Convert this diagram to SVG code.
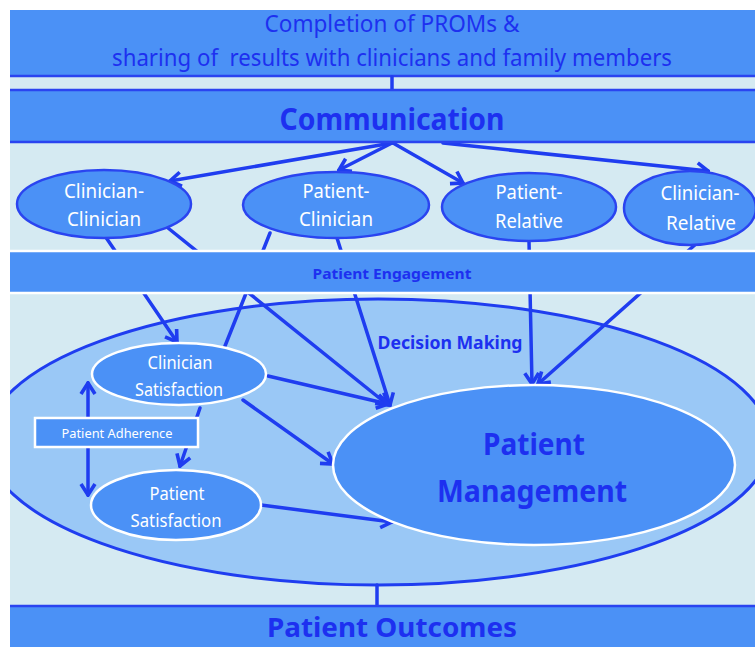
<svg xmlns="http://www.w3.org/2000/svg" width="755" height="647" viewBox="0 0 755 647">
<style>
  .band{fill:#4b91f6}
  .bg{fill:#d5eaf2}
  .node{fill:#4b91f6;stroke:#2a44f0;stroke-width:2.5}
  .wnode{fill:#4b91f6;stroke:#ffffff;stroke-width:2.5}
  .dm{fill:#9ac8f6;stroke:#1f3df0;stroke-width:3}
  .ln{fill:none;stroke:#1f3df0;stroke-width:3.5;stroke-linecap:round}
  .bl{stroke:#2a44f0;stroke-width:2.5}
  .wl{stroke:#ffffff;stroke-width:2.5}
  text{font-family:"Noto Sans","Open Sans",sans-serif;text-anchor:middle}
  .dt{fill:#1d30f0}
  .wt{fill:#ffffff}
  .b{font-weight:bold}
</style>
<defs>
  <marker id="ah" markerUnits="userSpaceOnUse" viewBox="-14 -9 16 18" markerWidth="16" markerHeight="18" refX="0" refY="0" orient="auto-start-reverse">
    <path d="M-11,-7 L0,0 L-11,7" fill="none" stroke="#1f3df0" stroke-width="3.6" stroke-linejoin="miter"/>
  </marker>
  <clipPath id="frame"><rect x="10" y="10" width="745" height="637"/></clipPath>
</defs>
<rect x="0" y="0" width="755" height="647" fill="#ffffff"/>
<g clip-path="url(#frame)">
  <rect class="bg" x="10" y="76" width="745" height="530"/>
  <g id="proms">
    <rect class="band" x="10" y="10" width="745" height="66"/>
    <line class="bl" x1="10" y1="76" x2="755" y2="76"/>
    <text class="dt" x="392" y="32" font-size="23" textLength="255" lengthAdjust="spacingAndGlyphs">Completion of PROMs &amp;</text>
    <text class="dt" x="392" y="66" font-size="23" textLength="560" lengthAdjust="spacingAndGlyphs" xml:space="preserve">sharing of  results with clinicians and family members</text>
  </g>
  <g id="decision-making">
    <ellipse class="dm" cx="378" cy="442" rx="392" ry="143"/>
    <text class="dt b" x="450" y="349" font-size="18" textLength="145" lengthAdjust="spacingAndGlyphs">Decision Making</text>
  </g>
  <g id="connectors">
    <line class="ln" x1="392" y1="77" x2="392" y2="91"/>
    <line class="ln" x1="377" y1="585" x2="377" y2="606"/>
    <line class="ln" x1="392" y1="143" x2="170" y2="181" marker-end="url(#ah)"/>
    <line class="ln" x1="392" y1="143" x2="339" y2="170" marker-end="url(#ah)"/>
    <line class="ln" x1="393" y1="143" x2="463" y2="183" marker-end="url(#ah)"/>
    <line class="ln" x1="443" y1="143" x2="708" y2="171" marker-end="url(#ah)"/>
    <line class="ln" x1="105" y1="236" x2="177" y2="342" marker-end="url(#ah)"/>
    <line class="ln" x1="168" y1="228" x2="388" y2="405" marker-end="url(#ah)"/>
    <line class="ln" x1="270" y1="233" x2="225" y2="346"/>
    <line class="ln" x1="337" y1="238" x2="390" y2="405" marker-end="url(#ah)"/>
    <line class="ln" x1="529" y1="241" x2="532" y2="384" marker-end="url(#ah)"/>
    <line class="ln" x1="697" y1="243" x2="538" y2="384" marker-end="url(#ah)"/>
    <line class="ln" x1="268" y1="376" x2="388" y2="404" marker-end="url(#ah)"/>
    <line class="ln" x1="243" y1="400" x2="333" y2="464" marker-end="url(#ah)"/>
    <line class="ln" x1="200" y1="408" x2="180" y2="466" marker-end="url(#ah)"/>
    <line class="ln" x1="88" y1="383" x2="88" y2="495" marker-start="url(#ah)" marker-end="url(#ah)"/>
    <line class="ln" x1="261" y1="505" x2="392" y2="522" marker-end="url(#ah)"/>
  </g>
  <g id="communication">
    <rect class="band" x="10" y="90" width="745" height="52"/>
    <line class="bl" x1="10" y1="90" x2="755" y2="90"/>
    <line class="bl" x1="10" y1="142" x2="755" y2="142"/>
    <text class="dt b" x="392" y="130" font-size="31" textLength="225" lengthAdjust="spacingAndGlyphs">Communication</text>
  </g>
  <g id="clinician-clinician">
    <ellipse class="node" cx="104" cy="204" rx="87" ry="34"/>
    <text class="wt" x="104" y="198" font-size="20" textLength="80" lengthAdjust="spacingAndGlyphs">Clinician-</text>
    <text class="wt" x="104" y="226" font-size="20" textLength="74" lengthAdjust="spacingAndGlyphs">Clinician</text>
  </g>
  <g id="patient-clinician">
    <ellipse class="node" cx="336" cy="205" rx="93" ry="33"/>
    <text class="wt" x="336" y="198" font-size="20" textLength="67" lengthAdjust="spacingAndGlyphs">Patient-</text>
    <text class="wt" x="336" y="226" font-size="20" textLength="74" lengthAdjust="spacingAndGlyphs">Clinician</text>
  </g>
  <g id="patient-relative">
    <ellipse class="node" cx="529" cy="207" rx="87" ry="34"/>
    <text class="wt" x="529" y="199" font-size="20" textLength="67" lengthAdjust="spacingAndGlyphs">Patient-</text>
    <text class="wt" x="529" y="228" font-size="20" textLength="68" lengthAdjust="spacingAndGlyphs">Relative</text>
  </g>
  <g id="clinician-relative">
    <ellipse class="node" cx="690" cy="208" rx="66" ry="37"/>
    <text class="wt" x="700" y="200" font-size="20" textLength="79" lengthAdjust="spacingAndGlyphs">Clinician-</text>
    <text class="wt" x="701" y="230" font-size="20" textLength="70" lengthAdjust="spacingAndGlyphs">Relative</text>
  </g>
  <g id="patient-engagement">
    <rect class="band" x="10" y="251" width="745" height="42"/>
    <line class="wl" x1="10" y1="251" x2="755" y2="251"/>
    <line class="wl" x1="10" y1="293" x2="755" y2="293"/>
    <text class="dt b" x="392" y="279" font-size="15" textLength="159" lengthAdjust="spacingAndGlyphs">Patient Engagement</text>
  </g>
  <g id="clinician-satisfaction">
    <ellipse class="wnode" cx="179" cy="374" rx="87" ry="31"/>
    <text class="wt" x="180" y="369" font-size="18" textLength="65" lengthAdjust="spacingAndGlyphs">Clinician</text>
    <text class="wt" x="179" y="396" font-size="18" textLength="88" lengthAdjust="spacingAndGlyphs">Satisfaction</text>
  </g>
  <g id="patient-adherence">
    <rect class="wnode" x="35" y="418" width="163" height="29"/>
    <text class="wt" x="117" y="438" font-size="13" textLength="111" lengthAdjust="spacingAndGlyphs">Patient Adherence</text>
  </g>
  <g id="patient-satisfaction">
    <ellipse class="wnode" cx="176" cy="505" rx="85" ry="35"/>
    <text class="wt" x="177" y="500" font-size="18" textLength="55" lengthAdjust="spacingAndGlyphs">Patient</text>
    <text class="wt" x="176" y="527" font-size="18" textLength="91" lengthAdjust="spacingAndGlyphs">Satisfaction</text>
  </g>
  <g id="patient-management">
    <ellipse class="wnode" cx="534" cy="465" rx="201" ry="80"/>
    <text class="dt b" x="534" y="455" font-size="31" textLength="102" lengthAdjust="spacingAndGlyphs">Patient</text>
    <text class="dt b" x="532" y="502" font-size="31" textLength="190" lengthAdjust="spacingAndGlyphs">Management</text>
  </g>
  <g id="patient-outcomes">
    <rect class="band" x="10" y="606" width="745" height="41"/>
    <line class="bl" x1="10" y1="606" x2="755" y2="606"/>
    <text class="dt b" x="392" y="637" font-size="26" textLength="250" lengthAdjust="spacingAndGlyphs">Patient Outcomes</text>
  </g>
</g>
</svg>
